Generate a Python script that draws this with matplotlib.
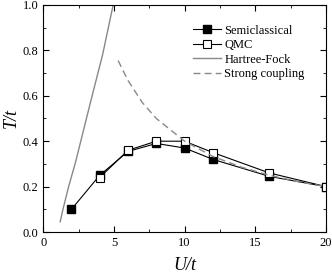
import matplotlib
matplotlib.use("Agg")
import matplotlib.pyplot as plt
from matplotlib.ticker import MultipleLocator

# data
u_semi = [2, 4, 6, 8, 10, 12, 16, 20]
t_semi = [0.10, 0.25, 0.355, 0.39, 0.37, 0.32, 0.245, 0.20]

u_qmc = [4, 6, 8, 10, 12, 16, 20]
t_qmc = [0.24, 0.36, 0.40, 0.40, 0.35, 0.26, 0.20]

u_hf = [1.2, 1.4, 1.8, 2.3, 3.3, 4.2, 4.95]
t_hf = [0.045, 0.10, 0.20, 0.31, 0.56, 0.78, 1.0]

u_sc = [5.3, 6, 7, 8, 10, 12, 14, 16, 18, 20]
t_sc = [0.755, 0.667, 0.571, 0.50, 0.40, 0.333, 0.286, 0.25, 0.222, 0.20]

plt.rcParams['font.family'] = ['Liberation Serif', 'DejaVu Serif']

fig = plt.figure(figsize=(3.32, 2.73), dpi=100)
ax = fig.add_axes([0.13, 0.15, 0.852, 0.832])

ax.plot(u_semi, t_semi, color='black', lw=0.8, marker='s', ms=5.2,
        mfc='black', mec='black', label='Semiclassical')
ax.plot(u_qmc, t_qmc, color='black', lw=0.8, marker='s', ms=5.2,
        mfc='white', mec='black', mew=0.8, label='QMC')
ax.plot(u_hf, t_hf, color='#888888', lw=1.0, label='Hartree-Fock')
ax.plot(u_sc, t_sc, color='#888888', lw=1.0, ls=(0, (5, 3)), label='Strong coupling')

ax.set_xlim(0, 20)
ax.set_ylim(0, 1.0)
ax.xaxis.set_major_locator(MultipleLocator(5))
ax.xaxis.set_minor_locator(MultipleLocator(2.5))
ax.yaxis.set_major_locator(MultipleLocator(0.2))
ax.yaxis.set_minor_locator(MultipleLocator(0.1))
ax.tick_params(which='both', direction='in', top=True, right=True, labelsize=9)
ax.tick_params(which='major', length=4)
ax.tick_params(which='minor', length=2)
ax.set_yticklabels([f"{v:.1f}" for v in ax.get_yticks()])

ax.set_xlabel('U/t', fontsize=13, style='italic', labelpad=6)
ax.set_ylabel('T/t', fontsize=13, style='italic', labelpad=2)

ax.legend(loc='upper right', bbox_to_anchor=(0.965, 0.962), frameon=False,
          fontsize=9, handlelength=2.2, handletextpad=0.3, labelspacing=0.2)

fig.savefig('out.png', dpi=100)
